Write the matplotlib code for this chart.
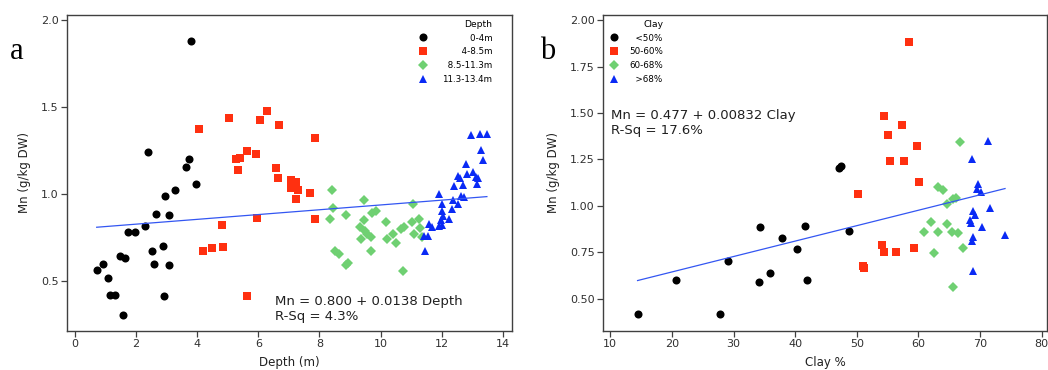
import matplotlib
matplotlib.use('Agg')
import matplotlib.pyplot as plt
import numpy as np

plt.rcParams['font.family'] = 'DejaVu Sans'

# ── Panel a: Mn vs depth ─────────────────────────────────────────────────────
DEPTH_0_4 = [3.79, 2.41, 3.72, 3.65, 3.97, 3.28, 2.96, 2.66, 3.08, 2.31,
             1.73, 1.96, 2.90, 2.53, 1.47, 1.65, 2.60, 3.08, 0.93, 0.72,
             1.09, 1.17, 1.32, 2.93, 1.57]
MN_0_4 = [1.880, 1.243, 1.200, 1.157, 1.056, 1.025, 0.989, 0.887, 0.881, 0.816,
          0.785, 0.785, 0.700, 0.676, 0.644, 0.636, 0.600, 0.594, 0.600, 0.563,
          0.521, 0.418, 0.418, 0.414, 0.305]

DEPTH_4_85 = [4.07, 5.03, 6.06, 6.29, 6.67, 5.62, 5.27, 5.39, 5.94, 5.33,
              6.57, 6.63, 7.07, 7.06, 7.24, 7.31, 7.24, 7.70, 7.86, 7.86,
              5.97, 4.82, 4.21, 4.49, 4.86, 5.64]
MN_4_85 = [1.375, 1.437, 1.424, 1.477, 1.395, 1.245, 1.200, 1.207, 1.232, 1.140,
           1.148, 1.092, 1.082, 1.033, 1.071, 1.021, 0.973, 1.008, 1.320, 0.858,
           0.864, 0.822, 0.671, 0.690, 0.697, 0.414]

DEPTH_85_113 = [8.42, 9.47, 8.44, 8.86, 8.35, 9.83, 9.73, 9.47, 10.18, 11.04,
                9.32, 9.48, 9.67, 9.36, 9.56, 10.41, 10.21, 10.50, 10.67, 10.77,
                11.03, 11.24, 11.09, 11.29, 11.34, 8.51, 8.65, 9.67, 8.85, 8.93,
                10.74]
MN_85_113 = [1.021, 0.967, 0.918, 0.881, 0.858, 0.906, 0.893, 0.852, 0.841, 0.941,
             0.812, 0.787, 0.753, 0.745, 0.770, 0.772, 0.745, 0.720, 0.800, 0.812,
             0.841, 0.858, 0.774, 0.806, 0.753, 0.676, 0.659, 0.671, 0.592, 0.603,
             0.561]

DEPTH_113_134 = [12.94, 13.23, 13.47, 13.29, 13.35, 12.79, 13.03, 12.82, 12.52, 12.60,
                 13.12, 13.19, 12.40, 12.70, 13.16, 11.92, 12.62, 12.72, 12.35, 12.54,
                 12.00, 12.33, 12.00, 12.05, 12.24, 11.98, 11.59, 11.67, 12.00, 11.91,
                 11.43, 11.54, 11.46]
MN_113_134 = [1.337, 1.343, 1.343, 1.255, 1.194, 1.174, 1.128, 1.113, 1.103, 1.090,
              1.098, 1.094, 1.046, 1.052, 1.059, 1.002, 0.989, 0.983, 0.964, 0.944,
              0.941, 0.916, 0.902, 0.874, 0.860, 0.851, 0.826, 0.812, 0.820, 0.816,
              0.759, 0.759, 0.672]

FIT_A = (0.800, 0.0138)

# ── Panel b: Mn vs clay ──────────────────────────────────────────────────────
CLAY_LT50 = [14.43, 20.70, 27.73, 29.13, 34.37, 34.21, 35.94, 37.84, 40.32, 41.57,
             41.89, 47.13, 47.41, 48.70]
MN_LT50 = [0.415, 0.602, 0.415, 0.703, 0.884, 0.589, 0.636, 0.827, 0.769, 0.890,
           0.602, 1.206, 1.213, 0.866]

CLAY_50_60 = [58.48, 54.43, 57.30, 55.08, 59.83, 55.40, 57.62, 60.15, 50.16, 54.05,
              54.43, 56.43, 59.35, 50.97, 51.14]
MN_50_60 = [1.883, 1.482, 1.437, 1.381, 1.324, 1.243, 1.243, 1.127, 1.064, 0.789,
            0.750, 0.753, 0.771, 0.674, 0.667]

CLAY_60_68 = [66.80, 63.19, 64.05, 65.57, 66.16, 64.60, 62.05, 64.70, 60.87, 63.19,
              65.41, 66.48, 67.29, 62.54, 65.57]
MN_60_68 = [1.342, 1.100, 1.087, 1.037, 1.044, 1.012, 0.913, 0.900, 0.861, 0.861,
            0.861, 0.855, 0.771, 0.748, 0.561]

CLAY_GT68 = [71.35, 68.65, 69.67, 69.56, 70.16, 71.67, 68.81, 69.24, 68.43, 68.49,
             70.32, 74.05, 68.91, 68.75, 68.91]
MN_GT68 = [1.349, 1.252, 1.117, 1.093, 1.074, 0.990, 0.970, 0.952, 0.923, 0.906,
           0.888, 0.843, 0.830, 0.812, 0.649]

FIT_B = (0.477, 0.00832)

BLACK = '#000000'
RED = '#ff3010'
GREEN = '#6fd072'
BLUE = '#0a2af5'
LINE = '#3356f2'
AXC = '#404040'

STYLES = [('o', BLACK, 5.8), ('s', RED, 5.3), ('D', GREEN, 5.2), ('^', BLUE, 6.2)]


def style_axes(ax):
    for s in ax.spines.values():
        s.set_color(AXC)
        s.set_linewidth(1.0)
    ax.tick_params(direction='out', length=4, width=0.9, color=AXC,
                   labelsize=8, labelcolor='#303030', pad=2)


def draw_panel(ax, xs, ys, labels, fit):
    handles = []
    for x, y, (m, c, ms), lab in zip(xs, ys, STYLES, labels):
        h, = ax.plot(x, y, linestyle='none', marker=m, color=c, markersize=ms,
                     markeredgewidth=0, label=lab)
        handles.append(h)
    allx = np.concatenate([np.asarray(v) for v in xs])
    fx = np.array([allx.min(), allx.max()])
    ax.plot(fx, fit[0] + fit[1] * fx, color=LINE, linewidth=0.9)
    return handles


fig = plt.figure(figsize=(10.48, 3.70), dpi=100)
ax1 = fig.add_axes([67 / 1048, 39 / 370, 445 / 1048, 316 / 370])
ax2 = fig.add_axes([603 / 1048, 39 / 370, 444 / 1048, 316 / 370])

# panel a
F, P = '\u2007', '\u2008'
labels_a = [F * 4 + P * 2 + '0-4m', F * 3 + P + '4-8.5m', F + '8.5-11.3m', '11.3-13.4m']
h1 = draw_panel(ax1, [DEPTH_0_4, DEPTH_4_85, DEPTH_85_113, DEPTH_113_134],
                [MN_0_4, MN_4_85, MN_85_113, MN_113_134], labels_a, FIT_A)
ax1.set_xlim(-0.25, 14.29)
ax1.set_ylim(0.214, 2.029)
ax1.set_xticks(np.arange(0, 15, 2))
ax1.set_yticks([0.5, 1.0, 1.5, 2.0])
ax1.set_yticklabels(['0.5', '1.0', '1.5', '2.0'])
ax1.set_xlabel('Depth (m)', fontsize=8.5, color='#202020', labelpad=5)
ax1.set_ylabel('Mn (g/kg DW)', fontsize=8.5, color='#202020', labelpad=7)
style_axes(ax1)
ax1.legend(handles=h1, title='Depth', loc='upper right',
           bbox_to_anchor=(0.956, 0.985), frameon=False, fontsize=6.3,
           title_fontsize=6.6, alignment='right', handlelength=1.0,
           handletextpad=1.6, labelspacing=0.55, borderpad=0,
           borderaxespad=0)
ax1.text(0.468, 0.025, 'Mn = 0.800 + 0.0138 Depth\nR-Sq = 4.3%',
         transform=ax1.transAxes, fontsize=9.5, ha='left', va='bottom',
         linespacing=1.2, color='#202020')

# panel b
labels_b = [F + '\u200a' + '<50%', '50-60%', '60-68%', F + '\u200a' + '>68%']
h2 = draw_panel(ax2, [CLAY_LT50, CLAY_50_60, CLAY_60_68, CLAY_GT68],
                [MN_LT50, MN_50_60, MN_60_68, MN_GT68], labels_b, FIT_B)
ax2.set_xlim(8.82, 80.86)
ax2.set_ylim(0.325, 2.029)
ax2.set_xticks(np.arange(10, 81, 10))
ax2.set_yticks([0.5, 0.75, 1.0, 1.25, 1.5, 1.75, 2.0])
ax2.set_yticklabels(['0.50', '0.75', '1.00', '1.25', '1.50', '1.75', '2.00'])
ax2.set_xlabel('Clay %', fontsize=8.5, color='#202020', labelpad=5)
ax2.set_ylabel('Mn (g/kg DW)', fontsize=8.5, color='#202020', labelpad=7)
style_axes(ax2)
ax2.legend(handles=h2, title='Clay', loc='upper left',
           bbox_to_anchor=(0.014, 0.985), frameon=False, fontsize=6.3,
           title_fontsize=6.6, alignment='right', handlelength=1.0,
           handletextpad=1.3, labelspacing=0.55, borderpad=0,
           borderaxespad=0)
ax2.text(0.018, 0.704, 'Mn = 0.477 + 0.00832 Clay\nR-Sq = 17.6%',
         transform=ax2.transAxes, fontsize=9.5, ha='left', va='top',
         linespacing=1.2, color='#202020')

# panel letters
fig.text(10 / 1048, 1 - 59 / 370, 'a', family='Liberation Serif', fontsize=22,
         va='baseline', ha='left')
fig.text(540 / 1048, 1 - 59 / 370, 'b', family='Liberation Serif', fontsize=22,
         va='baseline', ha='left')

fig.savefig('out.png', dpi=100, facecolor='white')
